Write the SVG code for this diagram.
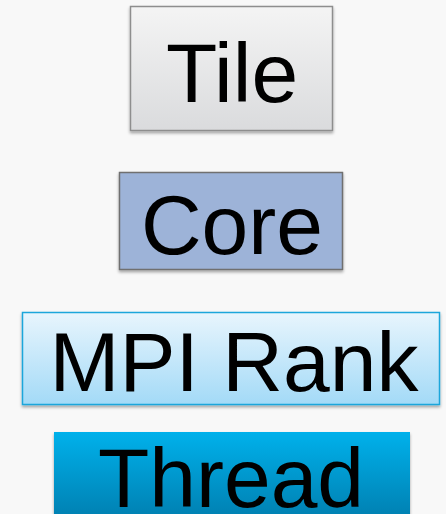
<svg xmlns="http://www.w3.org/2000/svg" width="446" height="514" viewBox="0 0 446 514">
<style>
.lbl{font-family:"Liberation Sans",Arial,sans-serif;font-size:84px;fill:#000;text-anchor:middle}
</style>
<defs>
<linearGradient id="gTile" x1="0" y1="0" x2="0" y2="1"><stop offset="0" stop-color="#f4f4f4"/><stop offset="1" stop-color="#dadbdd"/></linearGradient>
<linearGradient id="gMpi" x1="0" y1="0" x2="0" y2="1"><stop offset="0" stop-color="#e8f5fd"/><stop offset="1" stop-color="#a3daf7"/></linearGradient>
<linearGradient id="gThr" x1="0" y1="0" x2="0" y2="1"><stop offset="0" stop-color="#00b1eb"/><stop offset="1" stop-color="#0078a8"/></linearGradient>
<filter id="sh" x="-10%" y="-10%" width="120%" height="130%"><feDropShadow dx="0" dy="2" stdDeviation="1.5" flood-color="#000" flood-opacity="0.35"/></filter>
</defs>
<rect width="446" height="514" fill="#f8f8f8"/>
<g id="connectors"></g>
<g id="tile">
<rect x="130.5" y="6.5" width="202" height="124" fill="url(#gTile)" stroke="#8e8e8e" stroke-width="1.5" filter="url(#sh)"/>
<text class="lbl" x="232" y="102">Tile</text>
</g>
<g id="core">
<rect x="119.5" y="172.5" width="223" height="97" fill="#9db3d8" stroke="#6f6f6f" stroke-width="1.5" filter="url(#sh)"/>
<text class="lbl" x="232" y="254">Core</text>
</g>
<g id="mpi">
<rect x="22.5" y="312.5" width="417" height="92" fill="url(#gMpi)" stroke="#1aa6db" stroke-width="1.5" filter="url(#sh)"/>
<text class="lbl" x="234" y="391">MPI Rank</text>
</g>
<g id="thread">
<rect x="54" y="432" width="356" height="100" fill="url(#gThr)" filter="url(#sh)"/>
<text class="lbl" x="231" y="507">Thread</text>
</g>
</svg>
